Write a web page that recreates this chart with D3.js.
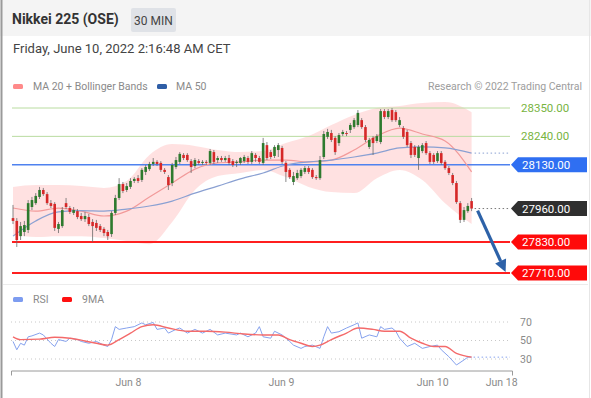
<!DOCTYPE html>
<html>
<head>
<meta charset="utf-8">
<script src="https://cdn.jsdelivr.net/npm/d3@7"></script>
<style>
  body { margin: 0; background: #fff; }
  svg { display: block; font-family: Roboto, "Noto Sans", sans-serif; }
</style>
</head>
<body>
<div id="chart"></div>
<script>
// 30 min candles, Nikkei 225 (OSE)
const opens = [27923,27912,27853,27869,27877,27966,27981,28005,28032,28016,
  27981,27978,27881,27892,27981,27962,27943,27950,27931,27919,
  27927,27908,27904,27892,27881,27869,27861,27943,28001,28055,
  28032,28044,28067,28078,28071,28102,28113,28133,28141,28137,
  28110,28082,28059,28121,28141,28168,28168,28144,28125,28144,
  28137,28141,28137,28179,28148,28156,28148,28156,28144,28137,
  28137,28144,28156,28141,28168,28156,28137,28206,28179,28164,
  28187,28195,28137,28110,28063,28078,28086,28102,28117,28110,
  28082,28078,28160,28238,28253,28234,28214,28249,28253,28265,
  28276,28284,28303,28276,28199,28234,28222,28218,28338,28315,
  28342,28334,28284,28272,28257,28214,28199,28156,28183,28214,
  28175,28168,28144,28175,28141,28117,28090,28059,27981,27916,
  27950,27989];
const highs = [27974,27923,27908,27912,27993,28005,28020,28044,28040,28024,
  27993,27985,27908,27966,28001,27970,27966,27958,27943,27947,
  27939,27919,27916,27900,27888,27877,27950,28013,28078,28063,
  28059,28078,28082,28090,28117,28129,28141,28156,28148,28144,
  28117,28090,28137,28160,28179,28175,28175,28152,28156,28152,
  28148,28148,28191,28187,28164,28164,28164,28168,28152,28148,
  28160,28168,28164,28183,28175,28164,28234,28218,28187,28206,
  28214,28203,28144,28117,28102,28110,28117,28125,28125,28117,
  28090,28164,28261,28269,28265,28241,28253,28265,28261,28292,
  28311,28342,28311,28284,28234,28241,28249,28346,28346,28346,
  28350,28342,28315,28280,28265,28222,28206,28206,28214,28222,
  28183,28175,28183,28183,28148,28125,28098,28067,27989,27966,
  27981,28001];
const lows = [27900,27811,27838,27853,27865,27954,27974,27997,28009,27974,
  27962,27873,27865,27885,27958,27939,27935,27919,27912,27908,
  27892,27830,27873,27869,27853,27838,27850,27935,27993,28020,
  28024,28036,28059,28059,28063,28090,28106,28125,28125,28102,
  28094,28032,28047,28113,28133,28148,28141,28098,28117,28129,
  28129,28129,28129,28133,28137,28141,28141,28129,28121,28121,
  28129,28137,28133,28133,28141,28133,28129,28148,28152,28156,
  28160,28133,28063,28075,28051,28071,28078,28094,28094,28075,
  28071,28071,28152,28230,28218,28168,28203,28241,28241,28253,
  28269,28276,28269,28218,28191,28168,28214,28210,28307,28307,
  28296,28296,28276,28230,28199,28156,28160,28110,28175,28168,
  28133,28133,28137,28129,28110,28090,28051,27978,27904,27908,
  27943,27950];
const closes = [27912,27838,27892,27896,27981,27993,28009,28032,28016,27981,
  27970,27885,27900,27954,27966,27947,27954,27927,27919,27931,
  27900,27892,27885,27877,27865,27853,27943,28001,28055,28028,
  28047,28067,28075,28067,28110,28121,28133,28141,28133,28110,
  28102,28051,28129,28148,28172,28156,28148,28121,28148,28137,
  28141,28137,28183,28141,28156,28148,28156,28137,28129,28141,
  28156,28160,28141,28175,28156,28141,28214,28156,28160,28199,
  28206,28141,28102,28082,28086,28098,28110,28117,28102,28082,
  28078,28148,28249,28257,28226,28179,28245,28257,28249,28284,
  28303,28331,28276,28226,28226,28214,28241,28338,28315,28338,
  28303,28303,28303,28238,28206,28168,28168,28199,28206,28175,
  28141,28141,28175,28137,28117,28098,28059,27985,27916,27954,
  27970,27960];

// indicators, read every 6 bars
const indIdx = [0,6,12,18,24,30,36,42,48,54,60,66,72,78,84,90,96,102,108,114,121];
const ma20 = [27962,27950,27962,27950,27931,27950,28005,28059,28113,28137,28141,28148,28148,28141,28148,28187,28241,28272,28249,28222,28102];
const bbUpper = [28044,28051,28051,28047,28040,28067,28168,28210,28203,28187,28179,28183,28214,28241,28284,28323,28350,28358,28369,28373,28334];
const bbLower = [27857,27850,27853,27853,27846,27834,27822,27908,28032,28086,28098,28110,28082,28044,28024,28020,28078,28110,28071,27981,27900];
const ma50 = [27853,27912,27947,27952,27950,27958,27970,27989,28020,28047,28075,28098,28129,28141,28148,28160,28175,28195,28199,28195,28175];

// RSI panel
const rsiIdx = [0,1,2,3,4,5,7,8,10,11,12,14,15,17,18,20,22,24,25,26,27,28,30,32,34,35,37,38,40,41,43,44,46,48,50,52,54,56,59,60,62,64,65,66,68,69,71,73,74,76,77,79,81,82,83,84,86,88,90,91,92,94,96,97,98,100,101,102,104,106,108,110,112,113,115,117,119,120,121];
const rsiVals = [49,40,47,45,54,55,58,56,47,43.5,51,49,52.5,51,49,47,49,45,43.5,51,65,62,63.5,65,69,67,69.5,62,63.5,58,62,63.5,58,62,58,62,56,58,56,58,54,58,65,54,52.5,60,56,49,45,41.5,43.5,45,41.5,54,65,58,59.5,63.5,67,69,52.5,56,54,65,62,63.5,60,52.5,43.5,47,41.5,43.5,45,40,32.5,23.5,29,32,32];
const rsiMaIdx = [0,2,7,11,15,19,22,25,28,31,34,37,41,46,51,56,61,66,70,73,76,79,81,84,88,91,95,98,102,105,108,111,114,117,121];
const rsiMaVals = [54,51,51.5,53.5,52.5,49.5,47,45,51,58,65,67,63.5,60,60,59,57,56,56,51,47,43.5,45,51,58,63.5,62,60,60,52.5,47,43.5,43.5,36,32];
const rsiTicks = [70, 50, 30];

// levels
const greenLevels = [28350, 28240];
const blueLevels = [28130];
const redLevels = [27830, 27710];

// x axis
const dateTickIdx = [30.3, 70.7, 110.6, 128.8];
const dateTickLabels = ['Jun 8', 'Jun 9', 'Jun 10', 'Jun 18'];

const width = 591;
const height = 398;
const n = closes.length;

const svg = d3.select('#chart').append('svg')
  .attr('width', width)
  .attr('height', height)
  .attr('viewBox', [0, 0, width, height]);

// card background / header
svg.append('rect').attr('width', width).attr('height', height).attr('fill', '#fff');
svg.append('rect').attr('width', width).attr('height', 36).attr('fill', '#f4f4f4');
svg.append('line').attr('x1', 1.5).attr('x2', 1.5).attr('y1', 0).attr('y2', height)
  .attr('stroke', '#9a9a9a').attr('stroke-width', 2);
svg.append('line').attr('x1', 589.5).attr('x2', 589.5).attr('y1', 0).attr('y2', height)
  .attr('stroke', '#e6e6e6');

svg.append('text').attr('x', 12).attr('y', 24)
  .attr('font-size', 14).attr('font-weight', 700).attr('fill', '#333')
  .text('Nikkei 225 (OSE)');
svg.append('rect').attr('x', 131).attr('y', 8).attr('width', 45).attr('height', 24)
  .attr('rx', 2).attr('fill', '#dfe2e7');
svg.append('text').attr('x', 153.5).attr('y', 24.5).attr('text-anchor', 'middle')
  .attr('font-size', 12).attr('fill', '#444').text('30 MIN');
svg.append('text').attr('x', 13).attr('y', 53)
  .attr('font-size', 13).attr('fill', '#444')
  .text('Friday, June 10, 2022 2:16:48 AM CET');

// legend
const legend = svg.append('g').attr('font-size', 10.5).attr('fill', '#8a8a8a');
legend.append('rect').attr('x', 13).attr('y', 84).attr('width', 10).attr('height', 5).attr('rx', 1.5).attr('fill', '#ff8a8a');
legend.append('text').attr('x', 33).attr('y', 90).text('MA 20 + Bollinger Bands');
legend.append('rect').attr('x', 157).attr('y', 84).attr('width', 10).attr('height', 5).attr('rx', 1.5).attr('fill', '#2f5ea6');
legend.append('text').attr('x', 176).attr('y', 90).text('MA 50');
legend.append('text').attr('x', 582).attr('y', 90).attr('text-anchor', 'end').attr('fill', '#9d9d9d')
  .text('Research \u00a9 2022 Trading Central');

// scales
const x = d3.scaleLinear().domain([0, n - 1]).range([13, 471.6]);
const y = d3.scaleLinear().domain([27710, 28350]).range([273, 108]);
const yR = d3.scaleLinear().domain([30, 70]).range([359, 322]);
const lineRight = 510;

// bollinger band
const band = d3.area()
  .x((d, i) => x(indIdx[i]))
  .y0((d, i) => y(bbLower[i]))
  .y1((d, i) => y(bbUpper[i]))
  .curve(d3.curveMonotoneX);
svg.append('path').datum(indIdx).attr('d', band).attr('fill', '#ffdcdc').attr('opacity', 0.85);

// levels
const levels = svg.append('g');
greenLevels.forEach((p) => {
  levels.append('line').attr('x1', 12).attr('x2', lineRight).attr('y1', y(p)).attr('y2', y(p))
    .attr('stroke', '#b9dca0').attr('stroke-width', 1);
  levels.append('text').attr('x', 521).attr('y', y(p)).attr('dy', '0.35em')
    .attr('font-size', 11.5).attr('fill', '#78b43f').text(p.toFixed(2));
});
blueLevels.forEach((p) => {
  levels.append('line').attr('x1', 12).attr('x2', lineRight).attr('y1', y(p)).attr('y2', y(p))
    .attr('stroke', '#4f82ef').attr('stroke-width', 1.5);
});
redLevels.forEach((p) => {
  levels.append('line').attr('x1', 12).attr('x2', lineRight).attr('y1', y(p)).attr('y2', y(p))
    .attr('stroke', '#ff1f1f').attr('stroke-width', 2);
});

// moving averages
const maLine = (vals) => d3.line()
  .x((d, i) => x(indIdx[i]))
  .y((d, i) => y(vals[i]))
  .curve(d3.curveMonotoneX);
svg.append('path').datum(indIdx).attr('d', maLine(ma20)).attr('fill', 'none')
  .attr('stroke', '#f29a9a').attr('stroke-width', 1.2);
svg.append('path').datum(indIdx).attr('d', maLine(ma50)).attr('fill', 'none')
  .attr('stroke', '#8aa0d2').attr('stroke-width', 1.2);
svg.append('line').attr('x1', x(n - 1) + 3).attr('x2', lineRight)
  .attr('y1', y(ma50[ma50.length - 1])).attr('y2', y(ma50[ma50.length - 1]))
  .attr('stroke', '#8aa0d2').attr('stroke-dasharray', '1.5,2.5');

// candles
const candles = svg.append('g').selectAll('g').data(closes).join('g');
candles.append('line')
  .attr('x1', (d, i) => x(i)).attr('x2', (d, i) => x(i))
  .attr('y1', (d, i) => y(highs[i])).attr('y2', (d, i) => y(lows[i]))
  .attr('stroke', '#6a6a6a').attr('stroke-width', 0.8);
candles.append('rect')
  .attr('x', (d, i) => x(i) - 1.3)
  .attr('width', 2.6)
  .attr('y', (d, i) => y(Math.max(opens[i], d)))
  .attr('height', (d, i) => Math.max(1, Math.abs(y(opens[i]) - y(d))))
  .attr('fill', (d, i) => (d >= opens[i] ? '#2e7a2e' : '#d62828'));

// last price dotted line
const last = closes[n - 1];
svg.append('line').attr('x1', x(n - 1) + 3).attr('x2', lineRight)
  .attr('y1', y(last)).attr('y2', y(last))
  .attr('stroke', '#777').attr('stroke-dasharray', '1.5,2.5');

// arrow
const ax0 = x(n - 1) + 6;
const ay0 = y(last) + 2;
const ax1 = x(n - 1) + 34;
const ay1 = y(redLevels[1]) - 1;
const ang = Math.atan2(ay1 - ay0, ax1 - ax0);
const headLen = 12;
const headW = 6;
const bx = ax1 - headLen * Math.cos(ang);
const by = ay1 - headLen * Math.sin(ang);
svg.append('line').attr('x1', ax0).attr('y1', ay0).attr('x2', bx).attr('y2', by)
  .attr('stroke', '#2d62a8').attr('stroke-width', 3.2);
svg.append('path')
  .attr('d', `M${ax1},${ay1}L${bx + headW * Math.sin(ang)},${by - headW * Math.cos(ang)}L${bx - headW * Math.sin(ang)},${by + headW * Math.cos(ang)}Z`)
  .attr('fill', '#2d62a8');

// price tags
const tag = (p, color, label) => {
  const cy = y(p);
  svg.append('path')
    .attr('d', `M511,${cy}L518,${cy - 7.5}H587V${cy + 7.5}H518Z`)
    .attr('fill', color);
  svg.append('text').attr('x', 522).attr('y', cy).attr('dy', '0.36em')
    .attr('font-size', 11.5).attr('fill', '#fff').text(label);
};
blueLevels.forEach((p) => tag(p, '#2f6ff2', p.toFixed(2)));
tag(last, '#2f2f2f', last.toFixed(2));
redLevels.forEach((p) => tag(p, '#ff0a0a', p.toFixed(2)));

// panel separator
svg.append('line').attr('x1', 3).attr('x2', 588).attr('y1', 284.5).attr('y2', 284.5)
  .attr('stroke', '#ececec');

// RSI legend
const rl = svg.append('g').attr('font-size', 10.5).attr('fill', '#8a8a8a');
rl.append('rect').attr('x', 13).attr('y', 297).attr('width', 10).attr('height', 5).attr('rx', 1.5).attr('fill', '#7d9cf0');
rl.append('text').attr('x', 33).attr('y', 303).text('RSI');
rl.append('rect').attr('x', 62).attr('y', 297).attr('width', 10).attr('height', 5).attr('rx', 1.5).attr('fill', '#ff1010');
rl.append('text').attr('x', 82).attr('y', 303).text('9MA');

// RSI grid
rsiTicks.forEach((t) => {
  svg.append('line').attr('x1', 11).attr('x2', lineRight).attr('y1', yR(t)).attr('y2', yR(t))
    .attr('stroke', '#c8c8c8').attr('stroke-dasharray', '1,3');
  svg.append('text').attr('x', 520).attr('y', yR(t)).attr('dy', '0.35em')
    .attr('font-size', 10.5).attr('fill', '#8a8a8a').text(t);
});

svg.append('path').datum(rsiIdx)
  .attr('d', d3.line().x((d) => x(d)).y((d, i) => yR(rsiVals[i])))
  .attr('fill', 'none').attr('stroke', '#86a2ee').attr('stroke-width', 1);
svg.append('line').attr('x1', x(n - 1) + 2).attr('x2', lineRight)
  .attr('y1', yR(rsiVals[rsiVals.length - 1])).attr('y2', yR(rsiVals[rsiVals.length - 1]))
  .attr('stroke', '#86a2ee').attr('stroke-dasharray', '1.5,2.5');
svg.append('path').datum(rsiMaIdx)
  .attr('d', d3.line().x((d) => x(d)).y((d, i) => yR(rsiMaVals[i])).curve(d3.curveMonotoneX))
  .attr('fill', 'none').attr('stroke', '#f46a6a').attr('stroke-width', 1.4);

// x axis
const xAxis = d3.axisBottom(d3.scaleLinear().domain([x.invert(11), x.invert(512)]).range([11, 512]))
  .tickValues(dateTickIdx)
  .tickFormat((d, i) => dateTickLabels[i])
  .tickSizeInner(0)
  .tickSizeOuter(5)
  .tickPadding(8);
svg.append('g')
  .attr('transform', 'translate(0,370.5)')
  .call(xAxis)
  .call((g) => g.select('.domain').attr('stroke', '#9a9a9a'))
  .call((g) => g.selectAll('text').attr('fill', '#8a8a8a').attr('font-size', 10.5)
    .attr('font-family', 'Roboto, "Noto Sans", sans-serif'));
</script>
</body>
</html>
